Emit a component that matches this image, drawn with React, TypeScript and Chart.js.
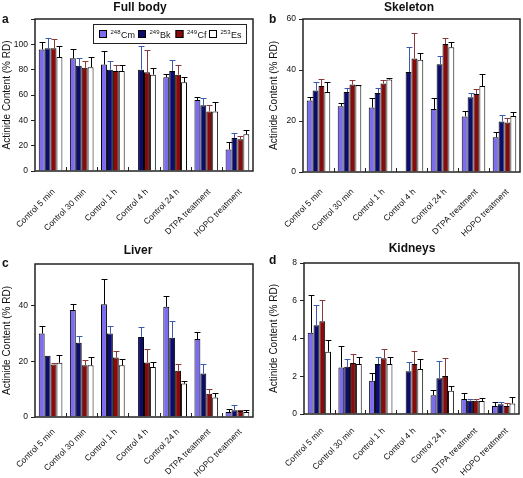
import React, { useEffect, useRef } from "react";
import { Chart, registerables } from "chart.js";
Chart.register(...registerables);

// ---------- DATA ----------
const categories = [
  "Control 5 min",
  "Control 30 min",
  "Control 1 h",
  "Control 4 h",
  "Control 24 h",
  "DTPA treatment",
  "HOPO treatment",
];
const isotopeMass = ["248", "249", "249", "253"];
const isotopeSymbol = ["Cm", "Bk", "Cf", "Es"];

// rows: Cm, Bk, Cf, Es
const fullBodyValues: (number | null)[][] = [
  [96, 89, 84, null, 74, 56, 17],
  [97, 83, 80, 80, 79, 52, 26],
  [97, 81.5, 79, 78, 76, 47, 25],
  [90, 82, 79, 76, 70, 47, 29],
];
const fullBodyErrors: (number | null)[][] = [
  [6, 7, 11, null, 2.4, 2.7, 6],
  [8, 6, 7, 19, 9, 5.6, 4],
  [7, 5.5, 5, 17.5, 7.3, 5, 2.8],
  [9, 8, 5, 5.5, 4, 7.4, 3.5],
];

const skeletonValues: (number | null)[][] = [
  [28, 25.8, 25.3, null, 24.7, 21.8, 13.6],
  [32, 31.4, 31, 39.2, 42.3, 29.3, 19.8],
  [33.7, 34.3, 34.7, 44.5, 50.2, 30.6, 19.4],
  [31.4, 34, 36.3, 44, 48.9, 33.7, 22],
];
const skeletonErrors: (number | null)[][] = [
  [1.5, 1.3, 3.7, null, 4.3, 2, 2.2],
  [3.2, 1.4, 1.8, 9.7, 3.2, 1.7, 2.4],
  [2.6, 1.6, 1.2, 10, 2.4, 2, 1.7],
  [3.8, 0.3, 0.7, 2.5, 1.9, 4.6, 1.4],
];

const liverValues: (number | null)[][] = [
  [30, 38.5, 40.5, null, 39.6, 28, 1.8],
  [22, 26.7, 30, 28.8, 28.5, 15.6, 2.4],
  [18.9, 18.6, 21.4, 19.6, 16.6, 8.4, 2.2],
  [19.5, 18.6, 18.6, 18, 12, 7, 1.8],
];
const liverErrors: (number | null)[][] = [
  [2.7, 2.2, 9, null, 3.9, 2.6, 1.2],
  [0, 2.5, 2.8, 3.4, 6.1, 3.4, 1.8],
  [0.4, 1.8, 2.4, 4.8, 2.4, 1.8, 0.4],
  [2.8, 3, 2.4, 1.7, 1, 1.6, 0.6],
];

const kidneysValues: (number | null)[][] = [
  [4.3, 2.47, 1.76, null, 1.0, 0.79, 0.42],
  [4.7, 2.5, 2.65, 2.27, 1.89, 0.7, 0.51],
  [4.92, 2.7, 2.95, 2.65, 2.01, 0.7, 0.42],
  [3.3, 2.65, 2.65, 2.38, 1.23, 0.69, 0.56],
];
const kidneysErrors: (number | null)[][] = [
  [2.0, 1.13, 0.42, null, 0.27, 0.34, 0.21],
  [1.07, 0.4, 0.38, 0.5, 0.93, 0.09, 0.12],
  [1.11, 0.5, 0.52, 0.68, 0.94, 0.09, 0.14],
  [0.6, 0.38, 0.38, 0.51, 0.27, 0.17, 0.32],
];

const yAxisTitle = "Actinide Content (% RD)";

// ---------- STYLE ----------
const barColors = ["#7b6cf0", "#0c0c6e", "#880a0a", "#ffffff"];
const errorColors = ["#000000", "#3a5bb0", "#8a3a3a", "#000000"];
const FONT = "Arial, 'Liberation Sans', sans-serif";

type Panel = {
  key: string;
  title: string;
  letter: string;
  left: number;
  top: number;
  w: number;
  h: number;
  area: { l: number; r: number; t: number; b: number };
  yMax: number;
  yStep: number;
  yLabelMax: number;
  values: (number | null)[][];
  errors: (number | null)[][];
  titleX: number;
  titleY: number;
  letterX: number;
  letterY: number;
  yTitleX: number;
  xPad: number;
  legend: boolean;
};

const panels: Panel[] = [
  {
    key: "a", title: "Full body", letter: "a", left: 0, top: 0, w: 262, h: 240,
    area: { l: 35, r: 253, t: 19, b: 171 }, yMax: 120, yStep: 20, yLabelMax: 100,
    values: fullBodyValues, errors: fullBodyErrors,
    titleX: 140, titleY: 8, letterX: 2, letterY: 20, yTitleX: 7, xPad: 8, legend: true,
  },
  {
    key: "b", title: "Skeleton", letter: "b", left: 262, top: 0, w: 261, h: 240,
    area: { l: 41, r: 258, t: 19, b: 172 }, yMax: 60, yStep: 20, yLabelMax: 60,
    values: skeletonValues, errors: skeletonErrors,
    titleX: 147, titleY: 8, letterX: 7, letterY: 20, yTitleX: 12, xPad: 7, legend: false,
  },
  {
    key: "c", title: "Liver", letter: "c", left: 0, top: 240, w: 262, h: 238,
    area: { l: 35, r: 253, t: 24, b: 177 }, yMax: 55, yStep: 20, yLabelMax: 40,
    values: liverValues, errors: liverErrors,
    titleX: 138, titleY: 11, letterX: 2, letterY: 24, yTitleX: 7, xPad: 2, legend: false,
  },
  {
    key: "d", title: "Kidneys", letter: "d", left: 262, top: 240, w: 261, h: 238,
    area: { l: 42, r: 257, t: 23, b: 174 }, yMax: 8, yStep: 2, yLabelMax: 8,
    values: kidneysValues, errors: kidneysErrors,
    titleX: 150, titleY: 9, letterX: 7, letterY: 21, yTitleX: 12, xPad: 4, legend: false,
  },
];

function drawLegend(ctx: CanvasRenderingContext2D) {
  const box = { x: 93.5, y: 24.5, w: 153, h: 19 };
  ctx.save();
  ctx.strokeStyle = "#222";
  ctx.lineWidth = 1;
  ctx.strokeRect(box.x, box.y, box.w, box.h);
  const swatchX = [99, 138, 175.5, 209];
  const cy = box.y + box.h / 2;
  for (let i = 0; i < 4; i++) {
    const sx = swatchX[i];
    ctx.fillStyle = barColors[i];
    ctx.fillRect(sx, cy - 4, 8, 8);
    ctx.strokeStyle = "#000";
    ctx.strokeRect(sx + 0.5, cy - 3.5, 7, 7);
    ctx.fillStyle = "#111";
    ctx.textAlign = "left";
    ctx.textBaseline = "alphabetic";
    ctx.font = `6px ${FONT}`;
    const mw = ctx.measureText(isotopeMass[i]).width;
    ctx.fillText(isotopeMass[i], sx + 11.5, cy - 0.5);
    ctx.font = `9px ${FONT}`;
    ctx.fillText(isotopeSymbol[i], sx + 11.5 + mw + 0.5, cy + 3.5);
  }
  ctx.restore();
}

function PanelChart({ p }: { p: Panel }) {
  const ref = useRef<HTMLCanvasElement>(null);
  useEffect(() => {
    const canvas = ref.current!;
    const plugin = {
      id: "deco_" + p.key,
      afterDatasetsDraw(chart: any) {
        const ctx: CanvasRenderingContext2D = chart.ctx;
        const ys = chart.scales.y;
        const ca = chart.chartArea;
        ctx.save();
        // error bars
        chart.data.datasets.forEach((_ds: any, i: number) => {
          const meta = chart.getDatasetMeta(i);
          meta.data.forEach((el: any, j: number) => {
            const v = p.values[i][j];
            const e = p.errors[i][j];
            if (v == null || e == null || e <= 0) return;
            const pr = el.getProps(["x", "y", "width"], true);
            const yTop = Math.round(ys.getPixelForValue(v + e)) + 0.5;
            const x = Math.round(pr.x) + 0.5;
            ctx.strokeStyle = errorColors[i];
            ctx.lineWidth = 1;
            ctx.beginPath();
            ctx.moveTo(x, pr.y);
            ctx.lineTo(x, yTop);
            ctx.moveTo(x - pr.width / 2, yTop);
            ctx.lineTo(x + pr.width / 2, yTop);
            ctx.stroke();
          });
        });
        // frame
        ctx.strokeStyle = "#222";
        ctx.lineWidth = 1.5;
        ctx.strokeRect(ca.left, ca.top, ca.right - ca.left, ca.bottom - ca.top);
        // inner category boundary ticks
        ctx.lineWidth = 1;
        const n = categories.length;
        const cw = (ca.right - ca.left) / n;
        ctx.beginPath();
        for (let k = 1; k < n; k++) {
          const x = Math.round(ca.left + k * cw) + 0.5;
          ctx.moveTo(x, ca.bottom);
          ctx.lineTo(x, ca.bottom - 4);
        }
        ctx.stroke();
        ctx.restore();
      },
      afterDraw(chart: any) {
        const ctx: CanvasRenderingContext2D = chart.ctx;
        const ca = chart.chartArea;
        ctx.save();
        ctx.fillStyle = "#111";
        ctx.textAlign = "center";
        ctx.textBaseline = "middle";
        ctx.font = `bold 12px ${FONT}`;
        ctx.fillText(p.title, p.titleX, p.titleY);
        ctx.textAlign = "left";
        ctx.fillText(p.letter, p.letterX, p.letterY);
        ctx.font = `10px ${FONT}`;
        ctx.translate(p.yTitleX, (ca.top + ca.bottom) / 2);
        ctx.rotate(-Math.PI / 2);
        ctx.textAlign = "center";
        ctx.fillText(yAxisTitle, 0, 0);
        ctx.restore();
        if (p.legend) drawLegend(ctx);
      },
    };
    const chart = new Chart(canvas, {
      type: "bar",
      data: {
        labels: categories,
        datasets: p.values.map((vals, i) => ({
          label: isotopeMass[i] + isotopeSymbol[i],
          data: vals,
          backgroundColor: barColors[i],
          borderColor: "#000",
          borderWidth: 1,
          categoryPercentage: 0.76,
          barPercentage: 1,
        })),
      },
      options: {
        animation: false,
        responsive: false,
        devicePixelRatio: 1,
        layout: {
          padding: { left: 0, right: p.w - p.area.r, top: p.area.t, bottom: 0 },
        },
        plugins: {
          legend: { display: false },
          title: { display: false },
          tooltip: { enabled: false },
        },
        scales: {
          x: {
            type: "category",
            offset: true,
            grid: { display: false },
            border: { display: false },
            ticks: {
              autoSkip: false,
              maxRotation: 45,
              minRotation: 45,
              font: { family: FONT, size: 8.5 },
              color: "#111",
              padding: p.xPad,
              labelOffset: 3,
            },
            afterFit: (s: any) => {
              s.height = p.h - p.area.b;
            },
          },
          y: {
            min: 0,
            max: p.yMax,
            grid: { drawOnChartArea: false, drawTicks: true, tickLength: 4, color: "#222" },
            border: { display: false },
            ticks: {
              stepSize: p.yStep,
              includeBounds: false,
              font: { family: FONT, size: 8.5 },
              color: "#111",
              padding: 3,
              callback: (v: any) => (Number(v) > p.yLabelMax ? "" : String(v)),
            },
            afterFit: (s: any) => {
              s.width = p.area.l;
            },
          },
        },
      } as any,
      plugins: [plugin],
    });
    return () => chart.destroy();
  }, []);
  return (
    <canvas
      ref={ref}
      width={p.w}
      height={p.h}
      style={{ position: "absolute", left: p.left, top: p.top, width: p.w, height: p.h }}
    />
  );
}

export default function App() {
  return (
    <div
      style={{
        position: "fixed",
        left: 0,
        top: 0,
        width: 523,
        height: 478,
        background: "#fff",
        overflow: "hidden",
      }}
    >
      {panels.map((p) => (
        <PanelChart key={p.key} p={p} />
      ))}
    </div>
  );
}
